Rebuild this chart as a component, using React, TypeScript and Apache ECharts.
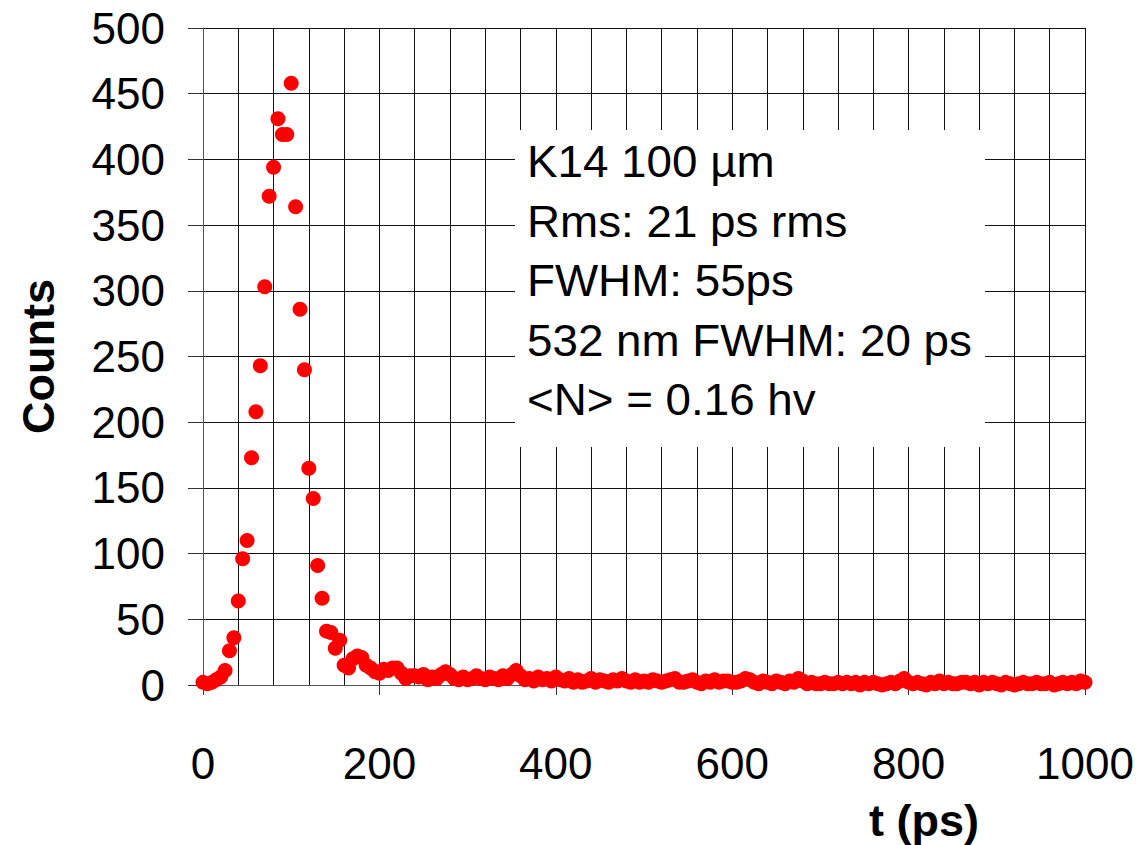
import React, { useEffect, useRef } from "react";
import * as echarts from "echarts";

// Time histogram: counts per 5 ps bin, from 0 to 1000 ps
const BIN_PS = 5;

// 0 – 235 ps: rise, peak and fast decay
const countsPeak = [
  2, 1, 2, 4, 6, 11, 26, 36, 64, 96,
  110, 173, 208, 243, 303, 372, 394, 431, 419, 419,
  458, 364, 286, 240, 165, 142, 91, 66, 41, 40,
  28, 34, 15, 13, 20, 22, 21, 15, 13, 10,
  9, 12, 11, 13, 13, 9, 5, 7,
];

// 240 – 400 ps
const countsShoulder = [
  7, 6, 8, 4, 6, 5, 8, 10, 8, 5,
  4, 6, 4, 5, 7, 5, 4, 6, 5, 4,
  7, 5, 8, 11, 7, 4, 5, 3, 6, 4,
  5, 3, 6,
];

// 405 – 600 ps
const countsTailA = [
  4, 3, 5, 2, 4, 2, 3, 5, 2, 4,
  3, 2, 4, 3, 5, 3, 2, 4, 2, 3,
  2, 4, 3, 2, 3, 4, 5, 2, 2, 3,
  4, 2, 1, 3, 2, 4, 2, 3, 3, 2,
];

// 605 – 800 ps
const countsTailB = [
  2, 3, 5, 4, 2, 1, 3, 2, 1, 3,
  2, 1, 3, 2, 5, 3, 1, 2, 1, 1,
  2, 1, 1, 2, 1, 2, 1, 2, 0, 2,
  1, 2, 1, 0, 1, 2, 1, 3, 5, 2,
];

// 805 – 1000 ps
const countsTailC = [
  1, 2, 1, 0, 2, 1, 3, 1, 2, 1,
  1, 2, 2, 1, 2, 0, 2, 1, 2, 1,
  0, 2, 1, 0, 1, 2, 1, 1, 2, 1,
  1, 2, 0, 1, 2, 1, 2, 1, 3, 2,
];

const xRange = { min: 0, max: 1000, labelStep: 200, gridSplit: 5 };
const yRange = { min: 0, max: 500, step: 50 };

const infoLines = [
  "K14 100 µm",
  "Rms: 21 ps rms",
  "FWHM: 55ps",
  "532 nm FWHM: 20 ps",
  "<N> = 0.16 hv",
];

const xTitle = "t (ps)";
const yTitle = "Counts";

const FONT = "'Liberation Sans', Arial, Helvetica, sans-serif";

export default function App() {
  const ref = useRef<HTMLDivElement>(null);

  useEffect(() => {
    if (!ref.current) return;
    const chart = echarts.init(ref.current, undefined, { renderer: "svg" });

    const counts = [
      ...countsPeak,
      ...countsShoulder,
      ...countsTailA,
      ...countsTailB,
      ...countsTailC,
    ];
    const points = counts.map((c, i) => [i * BIN_PS, c]);

    const gridLine = { color: "#111", width: 1 };

    chart.setOption({
      animation: false,
      backgroundColor: "#ffffff",
      grid: { left: 203, right: 57, top: 28, bottom: 160, containLabel: false },
      xAxis: {
        type: "value",
        min: xRange.min,
        max: xRange.max,
        interval: xRange.labelStep,
        axisLine: { show: true, onZero: false, lineStyle: { color: "#555", width: 1 } },
        axisTick: { show: true, length: 10, lineStyle: { color: "#333", width: 1 } },
        axisLabel: {
          color: "#000",
          fontSize: 44,
          fontFamily: FONT,
          margin: 56,
          formatter: (v: number) => String(v),
        },
        splitLine: { show: true, lineStyle: gridLine },
        minorTick: { show: false, splitNumber: xRange.gridSplit },
        minorSplitLine: { show: true, lineStyle: gridLine },
      },
      yAxis: {
        type: "value",
        min: yRange.min,
        max: yRange.max,
        interval: yRange.step,
        name: yTitle,
        nameLocation: "middle",
        nameRotate: 90,
        nameGap: 142,
        nameTextStyle: {
          color: "#000",
          fontSize: 45,
          fontWeight: "bold",
          fontFamily: FONT,
        },
        axisLine: { show: true, lineStyle: { color: "#555", width: 1 } },
        axisTick: { show: true, length: 15, lineStyle: { color: "#333", width: 1 } },
        axisLabel: {
          color: "#000",
          fontSize: 44,
          fontFamily: FONT,
          margin: 38,
          formatter: (v: number) => String(v),
        },
        splitLine: { show: true, lineStyle: gridLine },
      },
      series: [
        {
          type: "scatter",
          data: points,
          symbol: "circle",
          symbolSize: 15,
          itemStyle: { color: "#ff0000", opacity: 1 },
          z: 3,
        },
      ],
      graphic: [
        {
          type: "rect",
          z: 5,
          shape: { x: 515, y: 130, width: 470, height: 317 },
          style: { fill: "#ffffff" },
        },
        ...infoLines.map((line, i) => ({
          type: "text",
          z: 6,
          x: 527,
          y: 162 + i * 59.5,
          scaleX: 1.04,
          style: {
            text: line,
            fill: "#000",
            font: `44px ${FONT}`,
            textAlign: "left",
            textVerticalAlign: "middle",
          },
        })),
        {
          type: "text",
          z: 6,
          x: 924,
          y: 820,
          style: {
            text: xTitle,
            fill: "#000",
            font: `bold 45px ${FONT}`,
            textAlign: "center",
            textVerticalAlign: "middle",
          },
        },
      ],
    });

    return () => chart.dispose();
  }, []);

  return (
    <div
      ref={ref}
      style={{ position: "absolute", left: 0, top: 0, width: 1142, height: 845 }}
    />
  );
}
